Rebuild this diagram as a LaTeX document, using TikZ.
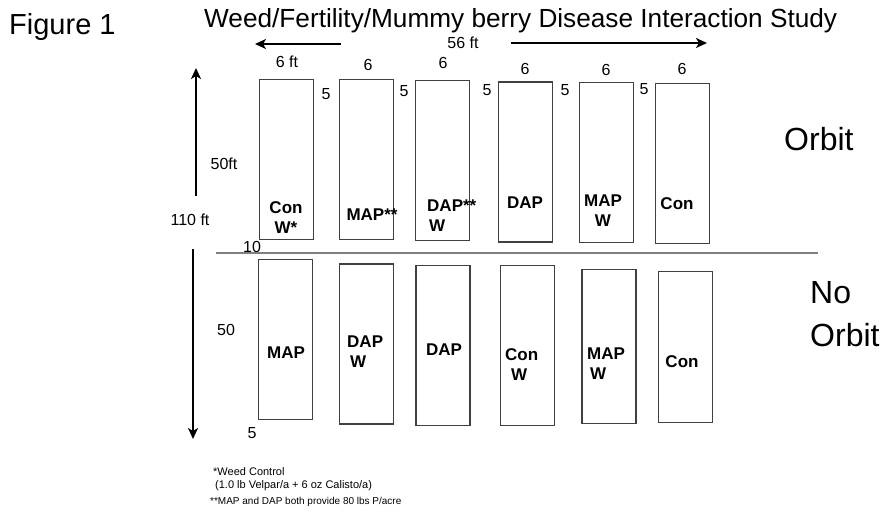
\documentclass[tikz,border=0pt]{standalone}
\usepackage{fontspec}
\setmainfont{Liberation Sans}
\usepackage{tikz}
\usetikzlibrary{arrows.meta}

\tikzset{
  plotbox/.style={draw=black!75, line width=1.1pt, minimum width=54pt, minimum height=160pt, inner sep=0pt},
  trt/.style={font=\fontsize{17}{20}\selectfont\bfseries, inner sep=0pt, anchor=north},
  trtl/.style={trt, anchor=north west, align=left},
  dim/.style={font=\fontsize{16}{19}\selectfont, inner sep=0pt},
  dimarrow/.style={line width=2.5pt, -{Stealth[length=11pt,width=10pt,inset=3pt]}},
  divider/.style={line width=1.4pt, black!50},
  side/.style={font=\fontsize{32}{43}\selectfont, inner sep=0pt, anchor=base west},
  note/.style={font=\fontsize{11}{13}\selectfont, inner sep=0pt, anchor=west}
}

\begin{document}
\begin{tikzpicture}[x=1pt,y=-1pt]
 \useasboundingbox (0,0) rectangle (888,521);
 % headings
 \node[font=\fontsize{29}{35}\selectfont, inner sep=0pt, anchor=base west] (fig) at (9,35) {Figure 1};
 \node[font=\fontsize{26.2}{31}\selectfont, inner sep=0pt, anchor=base west] (title) at (204,28) {Weed/Fertility/Mummy berry Disease Interaction Study};
 \node[font=\fontsize{16}{19}\selectfont, inner sep=0pt] (width) at (463,43) {56 ft};
 \coordinate (wl0) at (341,44);
 \coordinate (wl) at (255,44);
 \coordinate (wr0) at (511,43);
 \coordinate (wr) at (707,43);
 \draw[dimarrow] (wl0) -- (wl);
 \draw[dimarrow] (wr0) -- (wr);

 % Orbit plots
 \node[plotbox] (o1) at (286.5,159.2) {};
 \node[plotbox] (o2) at (366.9,159.2) {};
 \node[plotbox] (o3) at (442.9,160.5) {};
 \node[plotbox] (o4) at (525.7,162) {};
 \node[plotbox] (o5) at (606.2,162.2) {};
 \node[plotbox] (o6) at (682.5,163.2) {};
 \node[trt, align=center] at (286,201) {Con\\W*};
 \node[trt] at (372,209) {MAP**};
 \node[trtl] at (427,200) {DAP**\\\hspace{2pt}W};
 \node[trt] at (525,197) {DAP};
 \node[trt, align=center] at (603,195) {MAP\\W};
 \node[trt] at (677,197) {Con};

 % No Orbit plots
 \node[plotbox] (n1) at (285.2,339.7) {};
 \node[plotbox] (n2) at (366.9,344) {};
 \node[plotbox] (n3) at (443,345.2) {};
 \node[plotbox] (n4) at (527.3,345.2) {};
 \node[plotbox, minimum height=154pt] (n5) at (609,346.7) {};
 \node[plotbox, minimum height=151pt] (n6) at (685.3,346.8) {};
 \node[trt] at (286,347) {MAP};
 \node[trtl] at (347,336) {DAP\\\hspace{3pt}W};
 \node[trt] at (444,344) {DAP};
 \node[trtl] at (505,348) {Con\\\hspace{6pt}W};
 \node[trtl] at (587,348) {MAP\\\hspace{3pt}W};
 \node[trt] at (682,355) {Con};

 % plot widths and alleys
 \node[dim] at (287,62) {6 ft};
 \node[dim] at (368,65) {6};
 \node[dim] at (443,63) {6};
 \node[dim] at (525,69) {6};
 \node[dim] at (606,70) {6};
 \node[dim] at (682,69) {6};
 \node[dim] at (326,94) {5};
 \node[dim] at (404,91) {5};
 \node[dim] at (487,90) {5};
 \node[dim] at (565,90) {5};
 \node[dim] at (644,89) {5};

 % lengths
 \coordinate (up0) at (196,196);
 \coordinate (up) at (196,68);
 \coordinate (dn0) at (193,249);
 \coordinate (dn) at (193,439);
 \draw[dimarrow] (up0) -- (up);
 \draw[dimarrow] (dn0) -- (dn);
 \node[dim] at (224,164) {50ft};
 \node[dim] at (190,220) {110 ft};
 \node[dim] at (252,247) {10};
 \node[dim] at (226,330) {50};
 \node[dim] at (252,433) {5};

 % divider
 \coordinate (dl) at (216,253);
 \coordinate (dr) at (818,253);
 \draw[divider] (dl) -- (dr);

 \node[side] (orb) at (784,151) {Orbit};
 \node[side, align=left] (norb) at (810,346) {No\\Orbit};

 % notes
 \node[note] (n1a) at (213,472) {*Weed Control};
 \node[note] (n1b) at (215,486) {(1.0 lb Velpar/a + 6 oz Calisto/a)};
 \node[note, font=\fontsize{10}{12}\selectfont] (n2a) at (210,502) {**MAP and DAP both provide 80 lbs P/acre};
\end{tikzpicture}
\end{document}
